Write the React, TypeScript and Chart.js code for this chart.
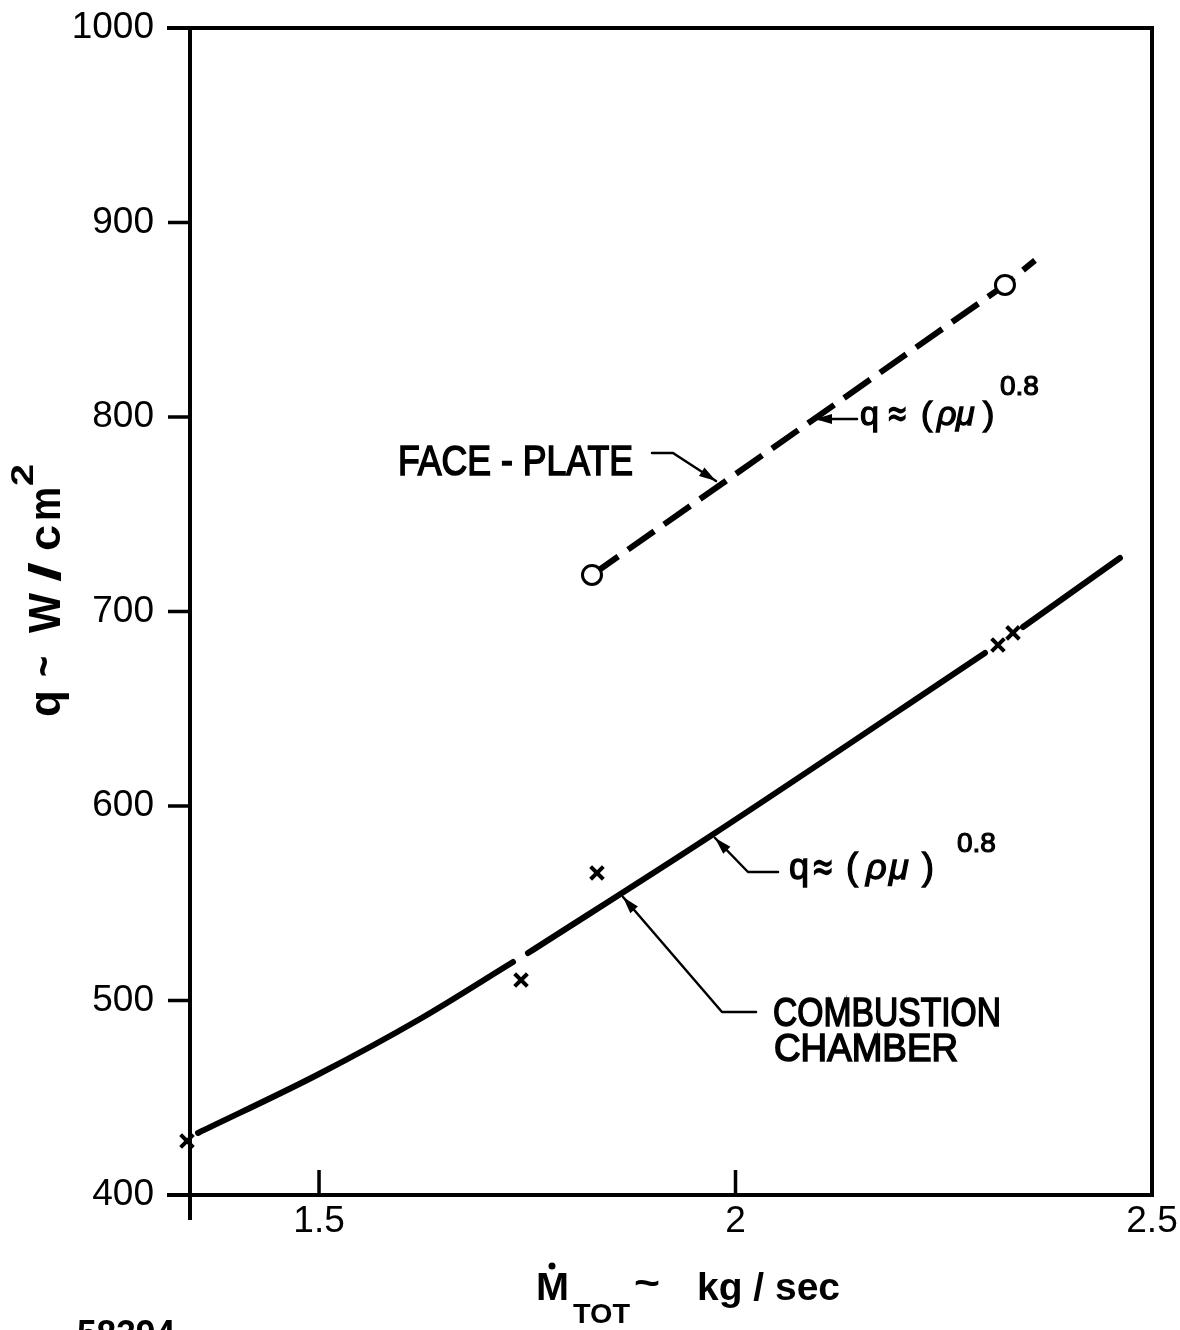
import React, { useEffect, useRef } from 'react';
import { Chart, registerables } from 'chart.js';

Chart.register(...registerables);

// ---- axes ----
const X_MIN = 1.3451;
const X_MAX = 2.5;
const Y_MIN = 400;
const Y_MAX = 1000;
const xTickValues = [1.5, 2, 2.5];
const xTickLabels = ['1.5', '2', '2.5'];
const yTickStep = 100;

// ---- face-plate (dashed line, open circles; last point = line extension) ----
const plateX = [1.8277, 2.3235, 2.3595];
const plateY = [718.8, 867.9, 880.5];
const plateMarker = [true, true, false];

// ---- combustion chamber correlation curve (null = break in the line) ----
const chamberX = [1.3547, 1.4976, 1.6212, 1.7329, 1.742, 1.7509, 1.9718, 2.2995, 2.322, 2.3451, 2.4615];
const chamberY = [431.9, 461.7, 490.5, 519.8, null, 524.4, 585.1, 678.7, null, 692.0, 727.5];

// ---- combustion chamber measured points (x marks) ----
const testX = [1.3415, 1.7425, 1.8337, 2.3151, 2.3331];
const testY = [427.8, 510.5, 565.6, 682.8, 689.0];

const FONT = '"Liberation Sans", Arial, sans-serif';

function fitText(ctx: CanvasRenderingContext2D, text: string, x: number, base: number, font: string, width?: number, stroke = 1) {
  ctx.save();
  ctx.font = font;
  const w = ctx.measureText(text).width;
  const sx = width ? width / w : 1;
  ctx.translate(x, base);
  ctx.scale(sx, 1);
  ctx.textAlign = 'left';
  ctx.textBaseline = 'alphabetic';
  ctx.fillText(text, 0, 0);
  if (stroke > 0) {
    ctx.lineWidth = stroke;
    ctx.strokeText(text, 0, 0);
  }
  ctx.restore();
}

function leader(ctx: CanvasRenderingContext2D, pts: number[][]) {
  ctx.save();
  ctx.lineWidth = 2.5;
  ctx.lineCap = 'round';
  ctx.lineJoin = 'round';
  ctx.beginPath();
  ctx.moveTo(pts[0][0], pts[0][1]);
  for (let i = 1; i < pts.length; i++) ctx.lineTo(pts[i][0], pts[i][1]);
  ctx.stroke();
  const [fx, fy] = pts[pts.length - 2];
  const [tx, ty] = pts[pts.length - 1];
  const a = Math.atan2(ty - fy, tx - fx);
  const len = 17;
  const half = 5;
  ctx.beginPath();
  ctx.moveTo(tx, ty);
  ctx.lineTo(tx - len * Math.cos(a) + half * Math.sin(a), ty - len * Math.sin(a) - half * Math.cos(a));
  ctx.lineTo(tx - len * Math.cos(a) - half * Math.sin(a), ty - len * Math.sin(a) + half * Math.cos(a));
  ctx.closePath();
  ctx.fill();
  ctx.restore();
}

function qRelation(ctx: CanvasRenderingContext2D, xs: number[], base: number, size: number, supX: number, supBase: number, supSize: number) {
  const f = `${size}px ${FONT}`;
  const fi = `italic ${size}px ${FONT}`;
  fitText(ctx, 'q', xs[0], base, f, undefined, 1.3);
  fitText(ctx, '\u2248', xs[1], base + 1, `bold ${size + 4}px "DejaVu Sans", ${FONT}`, size * 0.66, 0);
  fitText(ctx, '(', xs[2], base, f, undefined, 1.3);
  fitText(ctx, '\u03C1', xs[3], base, fi, undefined, 1.3);
  fitText(ctx, '\u03BC', xs[4], base, fi, undefined, 1.3);
  fitText(ctx, ')', xs[5], base, f, undefined, 1.3);
  fitText(ctx, '0.8', supX, supBase, `${supSize}px ${FONT}`, undefined, 1.2);
}

const framePlugin = {
  id: 'frame',
  afterDatasetsDraw(chart: any) {
    const ctx: CanvasRenderingContext2D = chart.ctx;
    const { left: L, right: R, top: T, bottom: B } = chart.chartArea;
    const xs = chart.scales.x;
    const ys = chart.scales.y;
    ctx.save();
    ctx.strokeStyle = '#000';
    ctx.fillStyle = '#000';
    ctx.lineWidth = 4;
    ctx.lineCap = 'butt';
    ctx.beginPath();
    // left axis (extends below as the tick at the minimum)
    ctx.moveTo(L, T - 2);
    ctx.lineTo(L, B + 25);
    // top
    ctx.moveTo(L - 23, T);
    ctx.lineTo(R + 2, T);
    // right
    ctx.moveTo(R, T);
    ctx.lineTo(R, B + 2);
    // bottom
    ctx.moveTo(L - 23, B);
    ctx.lineTo(R + 2, B);
    ctx.stroke();
    // y ticks (outward)
    ctx.lineWidth = 3.5;
    ctx.beginPath();
    for (let v = Y_MIN + yTickStep; v < Y_MAX; v += yTickStep) {
      const y = ys.getPixelForValue(v);
      ctx.moveTo(L - 22, y);
      ctx.lineTo(L, y);
    }
    // x ticks (inward)
    for (const v of xTickValues) {
      if (v >= X_MAX) continue;
      const x = xs.getPixelForValue(v);
      ctx.moveTo(x, B);
      ctx.lineTo(x, B - 25);
    }
    ctx.stroke();

    // ---- annotations ----
    // FACE - PLATE
    fitText(ctx, 'FACE - PLATE', 398, 475, `42px ${FONT}`, 235, 1.6);
    leader(ctx, [[652, 453], [673, 453], [716, 481]]);

    // upper relation
    qRelation(ctx, [860, 886, 921, 937, 956, 983], 425, 34, 1000, 395, 28);
    leader(ctx, [[857, 419], [815, 419]]);

    // lower relation
    qRelation(ctx, [789, 811, 846, 866, 889, 922], 879, 36, 957, 852, 28);
    leader(ctx, [[778, 872], [748, 872], [715, 838]]);

    // COMBUSTION CHAMBER
    fitText(ctx, 'COMBUSTION', 773, 1026, `41px ${FONT}`, 228, 1.6);
    fitText(ctx, 'CHAMBER', 774, 1061, `39px ${FONT}`, 184, 1.6);
    leader(ctx, [[756, 1012], [722, 1012], [623, 897]]);

    // y-axis title (rotated)
    ctx.save();
    ctx.translate(60, 717);
    ctx.rotate(-Math.PI / 2);
    const yf = `bold 44px ${FONT}`;
    fitText(ctx, 'q', 0, 0, yf, undefined, 0);
    fitText(ctx, '~', 40, -2, yf, 21, 0);
    fitText(ctx, 'W', 84, 0, yf, 40, 0);
    fitText(ctx, '/', 135, 0, yf, 20, 0);
    fitText(ctx, 'c', 166, 0, yf, 26, 0);
    fitText(ctx, 'm', 196, 0, yf, 34, 0);
    fitText(ctx, '2', 231, -27, `bold 32px ${FONT}`, 22, 0);
    ctx.restore();

    // x-axis title
    const xf = `bold 38px ${FONT}`;
    fitText(ctx, 'M', 536, 1300, xf, 33, 0);
    ctx.beginPath();
    ctx.arc(552, 1266, 3.5, 0, Math.PI * 2);
    ctx.fill();
    fitText(ctx, 'TOT', 573, 1323, `bold 28px ${FONT}`, 57, 0);
    fitText(ctx, '~', 634, 1296, xf, 26, 0);
    fitText(ctx, 'kg / sec', 697, 1300, xf, 143, 0);

    // figure number (cut by the page edge)
    fitText(ctx, '58394', 77, 1347, `bold 38px ${FONT}`, 98, 0);
    ctx.restore();
  },
};

export default function App() {
  const ref = useRef<HTMLCanvasElement>(null);

  useEffect(() => {
    if (!ref.current) return;
    const tickFont = { family: FONT, size: 37 };
    const chart = new Chart(ref.current, {
      type: 'line',
      data: {
        datasets: [
          {
            label: 'Combustion chamber data',
            data: testX.map((x, i) => ({ x, y: testY[i] })),
            showLine: false,
            pointStyle: 'crossRot',
            pointRadius: 9,
            pointBorderWidth: 4,
            borderColor: '#000',
            backgroundColor: '#000',
            clip: false,
          } as any,
          {
            label: 'Combustion chamber',
            data: chamberX.map((x, i) => ({ x, y: chamberY[i] })),
            borderColor: '#000',
            borderWidth: 6,
            pointRadius: 0,
            spanGaps: false,
            cubicInterpolationMode: 'monotone',
            borderCapStyle: 'round',
            fill: false,
          } as any,
          {
            label: 'Face-plate',
            data: plateX.map((x, i) => ({ x, y: plateY[i] })),
            borderColor: '#000',
            borderWidth: 6,
            borderDash: [32, 12],
            borderCapStyle: 'butt',
            pointRadius: plateMarker.map((m) => (m ? 9.5 : 0)),
            pointStyle: 'circle',
            pointBackgroundColor: '#fff',
            pointBorderColor: '#000',
            pointBorderWidth: 3,
            tension: 0,
            fill: false,
          } as any,
        ],
      },
      options: {
        animation: false,
        responsive: false,
        devicePixelRatio: 1,
        events: [],
        layout: { padding: { left: 0, top: 28, right: 28, bottom: 0 } },
        plugins: {
          legend: { display: false },
          tooltip: { enabled: false },
          title: { display: false },
        },
        scales: {
          x: {
            type: 'linear',
            min: X_MIN,
            max: X_MAX,
            grid: { display: false, drawTicks: false },
            border: { display: false },
            afterBuildTicks: (s: any) => {
              s.ticks = xTickValues.map((value) => ({ value }));
            },
            afterFit: (s: any) => {
              s.height = 135;
              s.paddingLeft = 0;
              s.paddingRight = 0;
            },
            ticks: {
              autoSkip: false,
              maxRotation: 0,
              padding: 5,
              color: '#000',
              font: tickFont,
              callback: (v: any) => {
                const i = xTickValues.indexOf(Number(v));
                return i >= 0 ? xTickLabels[i] : '';
              },
            },
          },
          y: {
            type: 'linear',
            min: Y_MIN,
            max: Y_MAX,
            grid: { display: false, drawTicks: false },
            border: { display: false },
            afterFit: (s: any) => {
              s.width = 190;
              s.paddingTop = 0;
              s.paddingBottom = 0;
            },
            ticks: {
              stepSize: yTickStep,
              padding: 36,
              color: '#000',
              font: tickFont,
              callback: (v: any) => String(v),
            },
          },
        },
      } as any,
      plugins: [framePlugin],
    });
    return () => chart.destroy();
  }, []);

  return (
    <div style={{ position: 'absolute', left: 0, top: 0, width: 1180, height: 1330, background: '#fff', overflow: 'hidden' }}>
      <canvas ref={ref} width={1180} height={1330} style={{ display: 'block' }} />
    </div>
  );
}
